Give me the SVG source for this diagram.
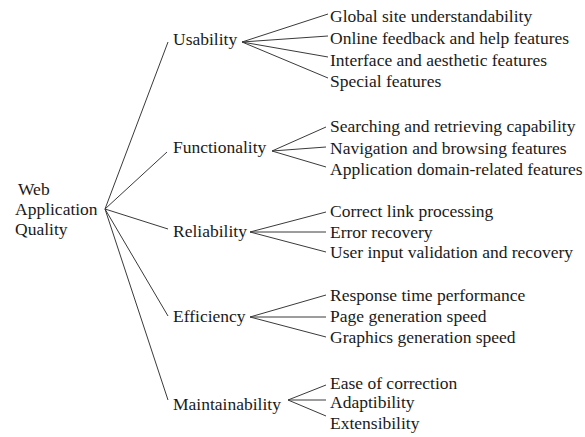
<svg xmlns="http://www.w3.org/2000/svg" width="585" height="437" viewBox="0 0 585 437">
<style>
.t text{font-size:17.5px;fill:#1a1a1a}
.c line{stroke:#3a3a3a;stroke-width:1;fill:none}
</style>
<rect width="585" height="437" fill="#fff"/>
<g class="c" id="connectors">
<line x1="105" y1="209" x2="168" y2="42"/>
<line x1="105" y1="209" x2="167" y2="152"/>
<line x1="105" y1="209" x2="168" y2="229"/>
<line x1="105" y1="209" x2="168" y2="316"/>
<line x1="105" y1="209" x2="168" y2="400"/>
<line x1="242" y1="42" x2="328" y2="14"/>
<line x1="242" y1="42" x2="328" y2="36"/>
<line x1="242" y1="42" x2="328" y2="57"/>
<line x1="242" y1="42" x2="328" y2="78"/>
<line x1="272" y1="151" x2="326" y2="127"/>
<line x1="272" y1="151" x2="326" y2="147"/>
<line x1="272" y1="151" x2="326" y2="167"/>
<line x1="250" y1="232" x2="326" y2="212"/>
<line x1="250" y1="232" x2="326" y2="232"/>
<line x1="250" y1="232" x2="326" y2="252"/>
<line x1="250" y1="317" x2="326" y2="295"/>
<line x1="250" y1="317" x2="326" y2="317"/>
<line x1="250" y1="317" x2="326" y2="337"/>
<line x1="288" y1="400" x2="326" y2="385"/>
<line x1="288" y1="400" x2="326" y2="400"/>
<line x1="288" y1="400" x2="326" y2="416"/>
</g>
<g class="t" font-family="'Liberation Serif', 'DejaVu Serif', serif">
<g id="root"><text x="18" y="195">Web</text><text x="15" y="215">Application</text><text x="15" y="235">Quality</text></g>
<g id="usability"><text x="173" y="45">Usability</text></g>
<g id="functionality"><text x="173" y="153">Functionality</text></g>
<g id="reliability"><text x="173" y="237">Reliability</text></g>
<g id="efficiency"><text x="173" y="322">Efficiency</text></g>
<g id="maintainability"><text x="173" y="410">Maintainability</text></g>
<g id="u1"><text x="330" y="22">Global site understandability</text></g>
<g id="u2"><text x="330" y="44">Online feedback and help features</text></g>
<g id="u3"><text x="330" y="66">Interface and aesthetic features</text></g>
<g id="u4"><text x="330" y="87">Special features</text></g>
<g id="f1"><text x="330" y="132">Searching and retrieving capability</text></g>
<g id="f2"><text x="330" y="154">Navigation and browsing features</text></g>
<g id="f3"><text x="330" y="175">Application domain-related features</text></g>
<g id="r1"><text x="330" y="217">Correct link processing</text></g>
<g id="r2"><text x="330" y="238">Error recovery</text></g>
<g id="r3"><text x="330" y="258">User input validation and recovery</text></g>
<g id="e1"><text x="330" y="301">Response time performance</text></g>
<g id="e2"><text x="330" y="322">Page generation speed</text></g>
<g id="e3"><text x="330" y="343">Graphics generation speed</text></g>
<g id="m1"><text x="330" y="389">Ease of correction</text></g>
<g id="m2"><text x="330" y="408">Adaptibility</text></g>
<g id="m3"><text x="330" y="429">Extensibility</text></g>
</g>
</svg>
